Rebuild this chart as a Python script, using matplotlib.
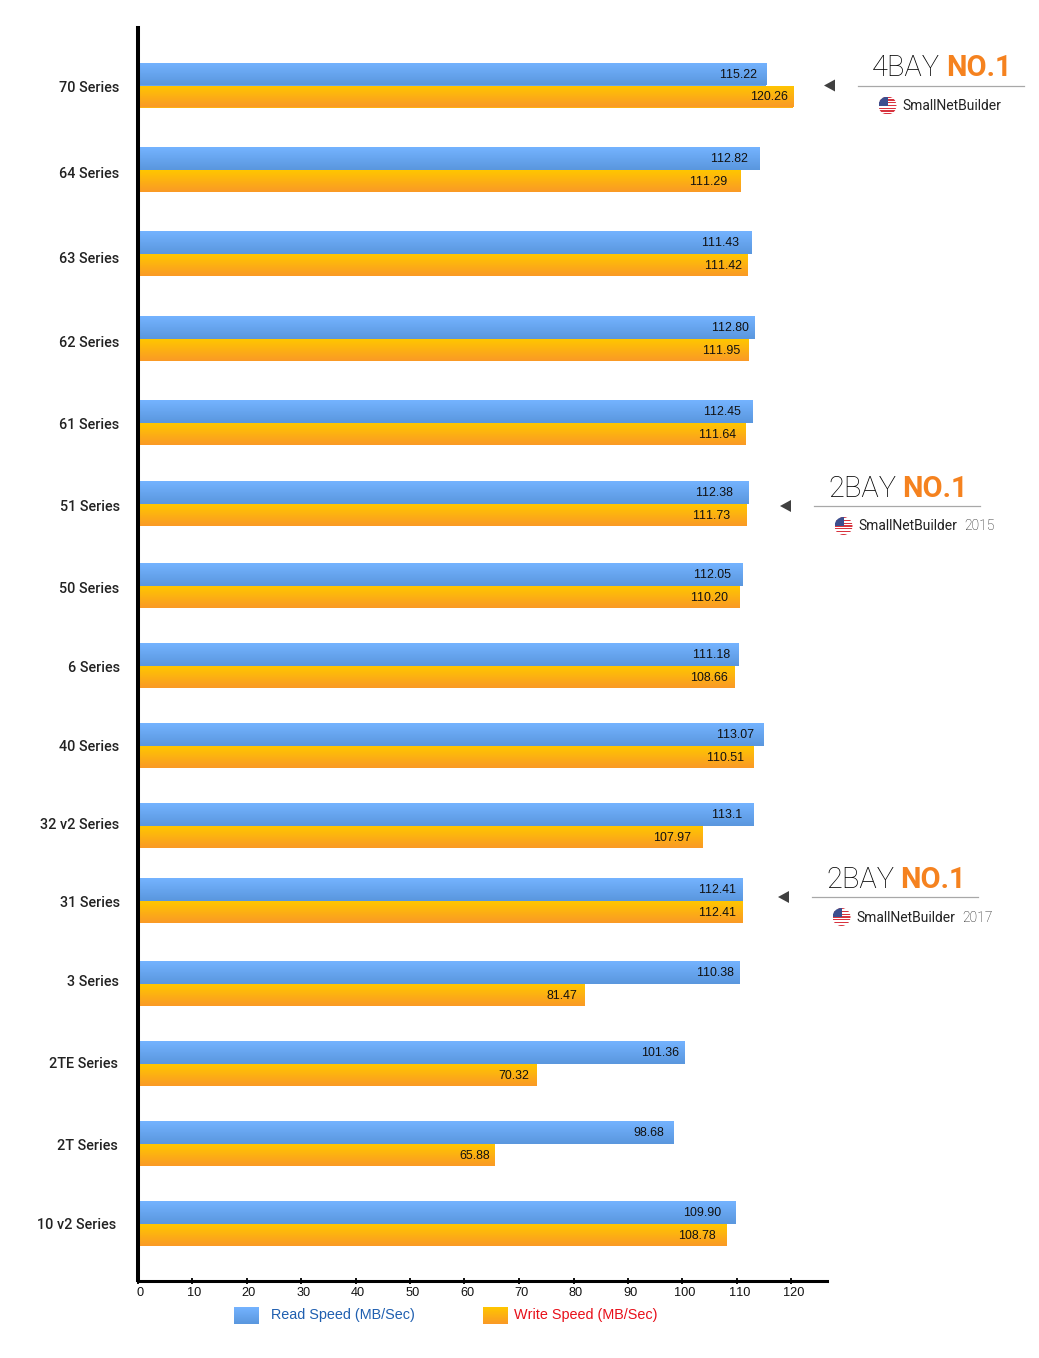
import numpy as np
import matplotlib
matplotlib.use('Agg')
import matplotlib.pyplot as plt
from matplotlib.colors import LinearSegmentedColormap
from matplotlib.patches import Circle, Rectangle, Polygon
from matplotlib.transforms import ScaledTranslation

series = ['70 Series', '64 Series', '63 Series', '62 Series', '61 Series',
          '51 Series', '50 Series', '6 Series', '40 Series', '32 v2 Series',
          '31 Series', '3 Series', '2TE Series', '2T Series', '10 v2 Series']
# printed values
read_text = ['115.22', '112.82', '111.43', '112.80', '112.45', '112.38', '112.05', '111.18',
             '113.07', '113.1', '112.41', '110.38', '101.36', '98.68', '109.90']
write_text = ['120.26', '111.29', '111.42', '111.95', '111.64', '111.73', '110.20', '108.66',
              '110.51', '107.97', '112.41', '81.47', '70.32', '65.88', '108.78']
# bar lengths as drawn, they don't always agree with the printed values
read_bar = [115.4, 114.0, 112.5, 113.2, 112.7, 112.1, 110.9, 110.1,
            114.7, 112.9, 110.9, 110.3, 100.3, 98.2, 109.6]
write_bar = [120.2, 110.5, 111.8, 112.0, 111.4, 111.6, 110.3, 109.4,
             112.9, 103.5, 110.9, 82.0, 73.2, 65.5, 107.9]
ticks = [0, 10, 20, 30, 40, 50, 60, 70, 80, 90, 100, 110, 120]

# layout, all in image pixels
W, H = 1039, 1358
row_y = [85.5, 170, 254, 339, 423, 504, 586, 666, 746, 826, 901, 984, 1064, 1144, 1224]
label_y = [88, 174, 259, 343, 425, 507, 589, 668, 747, 825, 903, 982, 1064, 1146, 1225]
label_right = [119.5, 119.5, 119.5, 119.5, 119.5, 119.5, 119.5, 119.5, 119.5, 119.5, 119.5, 118.5, 117.5, 117.5, 116.5]
read_inset = [9, 11, 12, 6, 11, 16, 11, 7, 9, 10, 6, 5, 5, 9, 14]
write_inset = [5, 12, 5, 8, 9, 16, 11, 6, 9, 11, 6, 7, 7, 4, 10]

X0, PX = 137.5, 5.45
TOP, BOTTOM, RIGHT = 28, 1280.5, 827.5

plt.rcParams['font.family'] = ['Liberation Sans', 'DejaVu Sans']
plt.rcParams['text.kerning_factor'] = 6

blue_cmap = LinearSegmentedColormap.from_list('b', ['#74B3FF', '#5A97DE'])
orange_cmap = LinearSegmentedColormap.from_list('o', ['#FFC600', '#FA9A26'])
grad = np.linspace(0, 1, 32).reshape(-1, 1)


def gradient_bars(ax, bars, cmap):
    for b in bars:
        img = ax.imshow(grad, cmap=cmap, aspect='auto', zorder=2, interpolation='bilinear',
                        extent=(b.get_x(), b.get_x() + b.get_width(),
                                b.get_y() + b.get_height(), b.get_y()))
        img.set_clip_path(b)


def flag(ov, x, y, r=9):
    clip = Circle((x, y), r, transform=ov.transData)
    ov.add_patch(Circle((x, y), r, fc='white', ec='none'))
    for i in range(7):
        s = Rectangle((x - r, y - r + i * 2 * r / 6.5), 2 * r, r / 6.5, fc='#D8343F', ec='none')
        ov.add_patch(s)
        s.set_clip_path(clip)
    c = Rectangle((x - r, y - r), r, r, fc='#3C4E8E', ec='none')
    ov.add_patch(c)
    c.set_clip_path(clip)


def badge(ov, x, y, name, year=None, head='4BAY'):
    # x,y is the left end of the rule under the heading
    ov.plot([x, x + 166], [y, y], color='#A8A8A8', lw=0.9)
    ov.text(x + 14, y - 9, head, fontsize=20.9, family='Roboto', fontweight='light',
            color='#000000', va='baseline')
    ov.text(x + 88, y - 9, 'NO.1', fontsize=20.9, family='Roboto', fontweight='bold',
            color='#F5821F', va='baseline')
    ov.add_patch(Polygon([[x - 34, y], [x - 23, y - 6], [x - 23, y + 6]], fc='#404040', ec='none'))
    flag(ov, x + 29.5, y + 20)
    ov.text(x + 44, y + 20.5, name, fontsize=10.0, family='Roboto',
            color='#222222', va='center')
    if year:
        ov.text(x + 150.5, y + 20.5, year, fontsize=10.0, family='Roboto', fontweight='light',
                color='#111111', va='center')


fig = plt.figure(figsize=(W / 100, H / 100), dpi=100)
ax = fig.add_axes([X0 / W, 1 - BOTTOM / H, (RIGHT - X0) / W, (BOTTOM - TOP) / H])
ax.set_xlim(0, (RIGHT - X0) / PX)
ax.set_ylim(BOTTOM, TOP)

rows = np.array(row_y)
read_bars = ax.barh(rows - 11.5, read_bar, height=23, color='#66A5EE', zorder=1)
write_bars = ax.barh(rows + 11, write_bar, height=22, color='#FDB012', zorder=1)
gradient_bars(ax, read_bars, blue_cmap)
gradient_bars(ax, write_bars, orange_cmap)
ax.set_xlim(0, (RIGHT - X0) / PX)
ax.set_ylim(BOTTOM, TOP)

for i in range(len(series)):
    ax.annotate(read_text[i], (read_bar[i], rows[i] - 11.5), xytext=(-read_inset[i] * 0.72, -0.6),
                textcoords='offset points', ha='right', va='center', fontsize=8.9, color='#111111', zorder=4)
    ax.annotate(write_text[i], (write_bar[i], rows[i] + 11), xytext=(-write_inset[i] * 0.72, -0.6),
                textcoords='offset points', ha='right', va='center', fontsize=8.9, color='#111111', zorder=4)

for s in ['top', 'right']:
    ax.spines[s].set_visible(False)
ax.spines['left'].set_linewidth(2.9)
ax.spines['bottom'].set_linewidth(2.2)
ax.spines['left'].set_zorder(5)
ax.spines['bottom'].set_zorder(5)
ax.set_yticks([])
ax.set_xticks(ticks)
ax.tick_params(axis='x', direction='inout', length=4.5, width=1.4, pad=2.2, labelsize=9.2, colors='#111111')
shift = ScaledTranslation(2.5 / 100, 0, fig.dpi_scale_trans)
for lab in ax.get_xticklabels():
    lab.set_transform(lab.get_transform() + shift)

# everything outside the plot goes on an overlay in pixel coordinates
ov = fig.add_axes([0, 0, 1, 1], zorder=10)
ov.axis('off')
ov.patch.set_alpha(0)

for x, cmap in [(234, blue_cmap), (483, orange_cmap)]:
    ov.imshow(grad, cmap=cmap, aspect='auto', extent=(x, x + 25, 1324, 1307), interpolation='bilinear')
ov.set_xlim(0, W)
ov.set_ylim(H, 0)

for name, y, r in zip(series, label_y, label_right):
    ov.text(r, y, name, ha='right', va='center', fontsize=10.4, family='Roboto',
            fontweight='medium', color='#222222')

ov.text(271, 1315.5, 'Read Speed (MB/Sec)', va='center', fontsize=10.4, color='#1F5FB0')
ov.text(514, 1315.5, 'Write Speed (MB/Sec)', va='center', fontsize=10.4, color='#E8101A')

badge(ov, 858, 85.5, 'SmallNetBuilder')
badge(ov, 814, 506, 'SmallNetBuilder', '2015', head='2BAY')
badge(ov, 812, 897, 'SmallNetBuilder', '2017', head='2BAY')

fig.savefig('out.png', dpi=100)
